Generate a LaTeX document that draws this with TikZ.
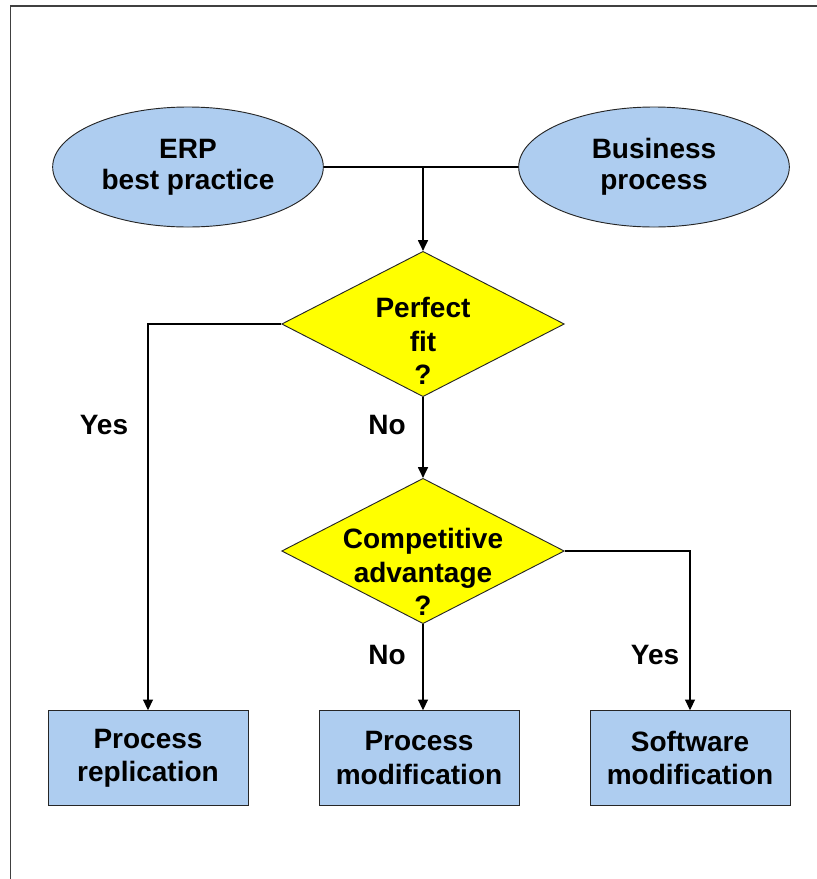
\documentclass[tikz,border=0pt]{standalone}
\usepackage{fontspec}
\setmainfont{Liberation Sans}
\usetikzlibrary{shapes.geometric,arrows.meta}
\definecolor{boxblue}{RGB}{174,205,240}
\definecolor{fityellow}{RGB}{255,255,0}

\begin{document}
\begin{tikzpicture}[x=0.75pt,y=-0.75pt]

		\tikzset{
		  txt/.style={
			font=\fontsize{21}{25}\selectfont\bfseries,
			align=center,
			inner sep=0pt,
		  },
		  source/.style={
			txt,
			ellipse,
			draw=black!85,
			fill=boxblue,
			line width=0.7pt,
			minimum width=203pt,
			minimum height=90pt,
			font=\fontsize{21}{23}\selectfont\bfseries,
		  },
		  decision/.style={
			diamond,
			draw=black!85,
			fill=fityellow,
			line width=0.7pt,
			inner sep=0pt,
			minimum width=212pt,
			minimum height=109pt,
		  },
		  outcome/.style={
			txt,
			rectangle,
			draw=black!85,
			fill=boxblue,
			line width=0.7pt,
			minimum width=150pt,
			minimum height=71pt,
		  },
		  plain/.style={line width=0.8pt},
		  flow/.style={line width=0.8pt,-{Triangle[length=8pt,width=7.5pt]}},
		}
		\clip (0,0) rectangle (817,879);
		\draw[color ={black!75},line width = 1.2pt] (10.5,6) rectangle (840,900);
		\node[source] (erp) at (188,167) {ERP\\best practice};
		\node[source] (bus) at (654,167) {Business\\process};
		\node[decision] (fit) at (423,324) {};
		\node[txt] (fitq) at (423,341) {Perfect\\fit\\?};
		\node[decision] (comp) at (423,551) {};
		\node[txt] (compq) at (423,572) {Competitive\\advantage\\?};
		\node[outcome] (rep) at (148,758) {Process\\replication};
		\node[outcome] (pmod) at (419,758) {Process\\modification};
		\node[outcome] (smod) at (690,758) {Software\\modification};
		\coordinate (join) at (fit.north |- erp.east);
		\draw[plain] (erp) -- (bus);
		\draw[flow] (join) -- (fit.north);
		\draw[flow] (fit.west) -| (rep.north);
		\draw[flow] (fit.south) -- (comp.north);
		\draw[flow] (comp.south) -- (comp.south |- pmod.north);
		\draw[flow] (comp.east) -| (smod.north);
		\node[txt] (yesfit) at (104,425) {Yes};
		\node[txt] (nofit) at (387,425) {No};
		\node[txt] (nocomp) at (387,655) {No};
		\node[txt] (yescomp) at (655,655) {Yes};

\end{tikzpicture}
\end{document}
